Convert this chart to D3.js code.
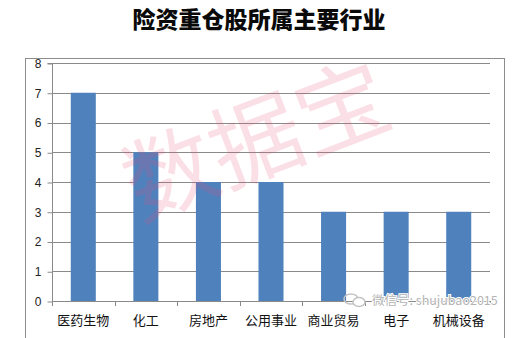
<!DOCTYPE html>
<html>
<head>
<meta charset="utf-8">
<script src="https://cdn.jsdelivr.net/npm/d3@7"></script>
<style>
  html, body { margin: 0; padding: 0; background: #fff; }
  svg { display: block; font-family: "Noto Sans CJK SC", "Noto Sans", sans-serif; }
</style>
</head>
<body>
<div id="chart-container"></div>
<script>
const width = 518;
const height = 338;
const margin = { top: 63, right: 28, bottom: 37, left: 52 };

const categories = ["医药生物", "化工", "房地产", "公用事业", "商业贸易", "电子", "机械设备"];
const counts = [7, 5, 4, 4, 3, 3, 3];
const yTicks = [0, 1, 2, 3, 4, 5, 6, 7, 8];

const svg = d3
  .select("#chart-container")
  .append("svg")
  .attr("width", width)
  .attr("height", height);

// outer chart frame
svg
  .append("rect")
  .attr("x", 25.5)
  .attr("y", 58.5)
  .attr("width", 479)
  .attr("height", 300)
  .attr("fill", "none")
  .attr("stroke", "#8c8c8c");

svg
  .append("text")
  .attr("x", width / 2)
  .attr("y", 28)
  .attr("text-anchor", "middle")
  .style("font-size", "23px")
  .style("font-weight", "900")
  .attr("fill", "#0a0a0a")
  .text("险资重仓股所属主要行业");

const x = d3
  .scaleBand()
  .domain(categories)
  .range([margin.left, width - margin.right])
  .paddingInner(0.6)
  .paddingOuter(0.3);

const y = d3
  .scaleLinear()
  .domain([0, 8])
  .range([height - margin.bottom, margin.top]);

// gridlines
svg
  .append("g")
  .selectAll("line")
  .data(yTicks.filter((d) => d > 0))
  .join("line")
  .attr("x1", margin.left)
  .attr("x2", width - margin.right)
  .attr("y1", (d) => Math.round(y(d)) + 0.5)
  .attr("y2", (d) => Math.round(y(d)) + 0.5)
  .attr("stroke", "#8a8a8a");

svg
  .append("g")
  .selectAll("rect")
  .data(categories)
  .join("rect")
  .attr("x", (d) => x(d))
  .attr("width", x.bandwidth())
  .attr("y", (d, i) => y(counts[i]))
  .attr("height", (d, i) => y(0) - y(counts[i]))
  .attr("fill", "#4f81bd");

// y axis
const yAxis = svg
  .append("g")
  .attr("transform", `translate(${margin.left + 0.5},0.5)`)
  .call(d3.axisLeft(y).tickValues(yTicks).tickSize(5).tickPadding(6));
yAxis.selectAll("path, line").attr("stroke", "#8a8a8a");
yAxis.selectAll("text").style("font-size", "12px").attr("fill", "#222");
yAxis.select(".domain").attr("d", `M-5,${y(8)}H0V${y(0)}`);

// x axis with ticks between categories
const bounds = d3.range(categories.length + 1).map(
  (i) => margin.left + i * (width - margin.right - margin.left) / categories.length
);
const xAxis = svg.append("g");
xAxis
  .append("line")
  .attr("x1", margin.left)
  .attr("x2", width - margin.right)
  .attr("y1", Math.round(y(0)) + 0.5)
  .attr("y2", Math.round(y(0)) + 0.5)
  .attr("stroke", "#8a8a8a");
xAxis
  .selectAll(".tk")
  .data(bounds)
  .join("line")
  .attr("class", "tk")
  .attr("x1", (d) => Math.round(d) + 0.5)
  .attr("x2", (d) => Math.round(d) + 0.5)
  .attr("y1", Math.round(y(0)))
  .attr("y2", Math.round(y(0)) + 5)
  .attr("stroke", "#8a8a8a");
xAxis
  .selectAll("text")
  .data(categories)
  .join("text")
  .attr("x", (d) => x(d) + x.bandwidth() / 2)
  .attr("y", y(0) + 24)
  .attr("text-anchor", "middle")
  .style("font-size", "13px")
  .attr("fill", "#111")
  .text((d) => d);

// watermark
svg
  .append("text")
  .attr("transform", "translate(268,172) rotate(-21)")
  .attr("text-anchor", "middle")
  .style("font-size", "92px")
  .attr("fill", "rgba(232,80,115,0.18)")
  .text("数据宝");

const wm = svg.append("g").attr("transform", "translate(343,295)");
// small wechat-like bubbles
wm.append("ellipse")
  .attr("cx", 8).attr("cy", 4).attr("rx", 7).attr("ry", 5)
  .attr("fill", "none").attr("stroke", "#c4c4c4").attr("stroke-width", 1.5);
wm.append("ellipse")
  .attr("cx", 16).attr("cy", 7).attr("rx", 6).attr("ry", 4.5)
  .attr("fill", "#fff").attr("stroke", "#c4c4c4").attr("stroke-width", 1.5);
wm.append("text")
  .attr("x", 29)
  .attr("y", 10)
  .style("font-size", "12.5px")
  .attr("fill", "#b4b4b4")
  .attr("stroke", "#fff")
  .attr("stroke-width", 2)
  .attr("paint-order", "stroke")
  .text("微信号: shujubao2015");
</script>
</body>
</html>
